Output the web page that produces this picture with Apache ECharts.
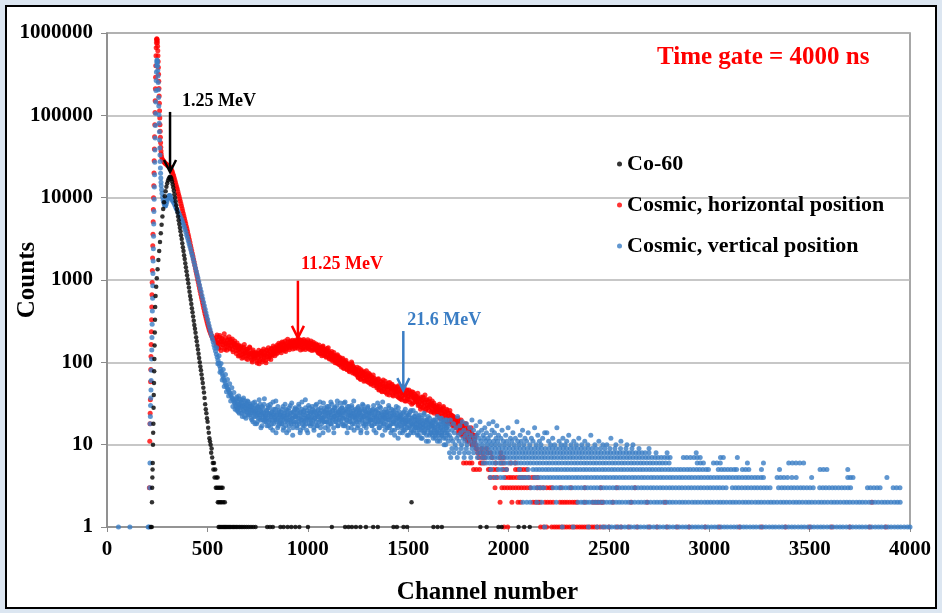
<!DOCTYPE html>
<html><head><meta charset="utf-8">
<script src="https://cdn.jsdelivr.net/npm/echarts@6/dist/echarts.min.js"></script>
<style>html,body{margin:0;padding:0;background:#dce6f1}#c{width:942px;height:613px}</style>
</head><body><div id="c"></div>
<script>
// ---------- tick labels / legend ----------
const xTickValues = [0, 500, 1000, 1500, 2000, 2500, 3000, 3500, 4000];
const yTickValues = [1, 10, 100, 1000, 10000, 100000, 1000000];
const seriesNames = ['Co-60', 'Cosmic, horizontal position', 'Cosmic, vertical position'];

// ---------- Co-60 (black): [channel, counts] ----------
const co60Points = [
[218,1],[223,1],[224,2],[225,3],[226,4],[227,5],[228,6],[229,10],[230,14],[231,18],[232,28],[233,40],[234,56],[235,78],[236,110],[237,160],[238,230],[239,330],[240,470],[242,640],[245,830],[248,1050],[252,1350],[256,1750],[260,2250],[264,2900],[268,3700],[272,4700],[276,5900],[280,7300],[284,8800],[288,10400],[292,12000],[296,13600],[300,15000],[304,16200],[308,17100],[312,17700],[315,17900],[318,17600],[321,16800],[324,15700],[327,14500],[330,13300],[333,12100],[336,11000],[339,10000],[342,9000],[345,8100],[348,7300],[351,6600],[354,5900],[357,5300],[360,4800],[363,4300],[366,3900],[369,3500],[372,3150],[375,2800],[378,2500],[381,2250],[384,2000],[387,1800],[390,1600],[393,1430],[396,1280],[399,1140],[402,1020],[405,910],[408,810],[411,720],[414,640],[417,575],[420,510],[423,455],[426,405],[429,360],[432,320],[435,285],[438,255],[441,228],[444,202],[447,180],[450,160],[453,143],[456,127],[459,113],[462,100],[465,89],[468,80],[471,71],[474,63],[477,56],[480,49],[483,43],[486,37],[489,31],[492,27],[495,24],[498,21],[501,19],[504,16],[507,14],[510,12],[513,11],[516,10],[519,8],[521,9],[524,7],[527,6],[530,5],[533,6],[536,4],[539,5],[542,3],[545,4],[551,4],[548,3],[555,3],[562,3],[569,3],[576,3],[552,2],[558,2],[565,2],[571,2],[579,2],[587,2],[1517,2]
];
const co60Ones = [556,561,567,573,579,585,591,597,603,609,616,623,630,637,644,652,660,668,677,686,696,706,717,728,740,798,812,826,864,880,900,918,938,958,1001,1120,1186,1203,1220,1240,1262,1290,1326,1349,1427,1444,1477,1495,1626,1647,1668,1860,1891,1950,1966,2050,2078,2106];

// ---------- Cosmic, horizontal (red) ----------
const redPoints = [
[211,3],[213,11],[214,18],[215,24],[216,35],[217,58],[218,82],[219,118],[220,165],[221,235],[222,330],[223,470],[224,660],[225,930],[226,1300],[227,1850],[228,2600],[229,3600],[230,5100],[231,7200],[232,10000],[233,14000],[234,20000],[235,28000],[236,39000],[237,55000],[238,77000],[239,108000],[240,150000],[241,210000],[242,290000],[243,400000],[244,530000],[245,660000],[246,760000],[247,830000],[248,850000],[249,840000],[250,810000],[251,760000],[252,690000],[253,610000],[254,530000],[255,450000],[256,380000],[257,315000],[258,260000],[259,212000],[260,172000],[261,140000],[262,114000],[263,93000],[264,77000],[265,64000],[266,54000],[267,46500],[268,41000],[269,37000],[270,34000],[272,31500],[275,29500],[278,28500],[281,27800],[284,27200],[287,26700],[290,26200],[293,25800],[296,25400],[299,25000],[302,24700],[305,24300],[308,24000],[311,23600],[314,23200],[317,22700],[320,22000],[323,21200],[326,20300],[329,19300],[332,18300],[335,17300],[338,16300],[341,15300],[344,14400],[347,13500],[350,12700],[353,11900],[356,11100],[359,10400],[362,9700],[365,9100],[368,8500],[371,7900],[374,7400],[377,6900],[380,6400],[383,6000],[386,5600],[389,5200],[392,4850],[395,4500],[398,4200],[401,3900],[404,3600],[407,3350],[410,3100],[413,2870],[416,2650],[419,2450],[422,2270],[425,2100],[428,1940],[431,1790],[434,1650],[437,1520],[440,1400],[443,1290],[446,1190],[449,1100],[452,1010],[455,930],[458,860],[461,790],[464,730],[467,670],[470,620],[473,575],[476,530],[479,490],[482,455],[485,420],[488,390],[491,365],[494,340],[497,318],[500,298],[503,280],[506,265],[509,250],[512,238],[515,228],[518,218],[521,210],[524,203],[527,197],[530,192],[533,188],[536,184]
];
// red band: counts every 4th channel, two interleaved readings
const redBandStart = 540, redBandStep = 4;
const redBandCounts = [
190,160,215,172,148,201,178,139,196,165,183,222,150,171,140,188,163,205,145,176,158,192,134,168,181,
150,128,172,141,160,121,153,137,112,148,126,165,131,119,144,108,137,125,150,113,129,101,141,118,126,
112,131,98,124,140,105,119,135,101,127,145,113,122,99,138,128,150,116,134,108,145,124,158,131,120,
147,126,162,138,171,144,155,131,177,150,165,139,182,158,148,191,160,142,175,167,152,186,161,173,148,
178,152,169,195,158,173,141,185,164,150,190,167,143,176,159,188,147,170,155,181,139,164,175,146,160,
168,140,156,131,162,145,126,150,138,158,121,142,133,115,147,124,137,110,129,119,135,104,122,113,99,
117,98,124,105,94,113,101,88,108,96,84,103,92,99,81,95,86,77,91,83,97,74,88,79,72,
82,70,76,65,85,71,62,78,68,74,59,70,66,79,61,68,57,72,63,55,67,60,52,64,58,
60,49,56,63,47,53,58,45,51,61,48,44,55,50,41,52,47,57,43,49,54,40,46,51,42,
48,39,44,52,37,42,47,35,43,40,49,34,41,45,36,39,46,33,42,38,44,32,37,41,35,
39,33,42,31,36,29,38,34,28,37,32,40,27,35,30,33,26,36,31,28,34,25,32,29,27,
30,25,28,23,31,26,21,27,24,29,20,25,22,27,19,24,21,26,18,23,20,22,17,21,19,
19,16,21,15,18,14,20,16,13,17,15,12,18,14,11,16,13,15,12,14,10,13,11,12,10
];
const redBand2Start = 542;
const redBand2Counts = [
175,203,158,186,169,212,151,180,194,162,176,143,199,168,157,185,172,149,190,161,178,142,170,155,164,
162,138,155,119,147,133,158,124,141,115,152,129,137,111,144,122,131,154,118,127,106,134,120,112,131,
120,104,127,115,96,130,110,124,137,107,119,132,105,141,117,128,111,139,123,147,119,135,128,151,138,
136,155,131,149,160,137,168,152,143,174,147,159,135,168,155,176,149,163,181,157,170,145,178,164,185,
160,182,148,171,163,187,155,176,144,169,181,152,173,162,149,178,158,143,172,165,150,168,141,162,153,
146,162,135,153,128,149,141,120,155,132,145,125,140,118,134,150,113,131,124,108,127,116,132,106,119,
104,120,97,110,116,92,105,99,112,86,101,94,106,83,97,89,79,94,86,101,80,90,75,85,81,
74,87,67,79,72,63,81,69,75,64,77,60,71,67,58,74,62,69,54,65,59,70,57,62,53,
56,51,62,46,54,50,58,44,55,47,52,59,43,50,46,56,40,51,45,53,48,39,50,44,47,
44,50,38,46,41,36,45,39,51,37,43,40,34,46,38,42,35,44,40,31,39,43,36,33,38,
34,38,30,36,33,27,35,31,38,29,33,26,35,30,28,34,29,31,25,32,27,30,24,29,26,
28,23,26,29,21,27,24,22,28,20,25,23,18,26,22,20,24,19,23,21,17,22,18,20,16,
17,20,14,18,16,19,13,17,15,14,18,12,16,13,15,11,14,12,16,10,13,12,11,13,9
];
// red tail: channels seen at each integer count level
const redLevel9 = [1842,1866,1890];
const redLevel8 = [1846,1858,1874,1896,1910,1962];
const redLevel7 = [1852,1870,1883,1918,1958,1975];
const redLevel6 = [1776,1790,1806,1818,1860,1868,1880,1935,1962,1975,2010,2035];
const redLevel5 = [1826,1840,1856,1900,1908,1925,1940,1975,1990,2035,2048,2060,2075,2090];
const redLevel4 = [1908,1925,1943,1985,2000,2012,2025,2040,2055,2068,2082,2100,2117,2130,2145];
const redLevel3 = [1933,1967,1980,1994,2008,2022,2036,2050,2064,2078,2092,2107,2142,2156,2172,2190,2205,2216,2260,2310,2380,2460,2540,2630];
const redLevel2 = [1958,2017,2047,2060,2122,2135,2148,2157,2182,2195,2208,2222,2256,2268,2280,2292,2305,2318,2330,2341,2380,2421,2435,2448,2462,2470,2520,2610,2690,2780,3810];
const redLevel1 = [1978,1996,2160,2175,2190,2215,2228,2240,2252,2265,2278,2290,2303,2316,2328,2341,2354,2366,2378,2390,2403,2416,2428,2441,2456,2475,2500,2540,2560,2600,2640,2700,2740,2790,2840,2900,2980,3050,3150,3260,3380,3500,3610,3700,3800,3880];

// ---------- Cosmic, vertical (blue) ----------
const bluePoints = [
[57,1],[114,1],[205,1],[210,1],[213,3],[214,6],[215,18],[216,22],[217,30],[218,37],[219,46],[220,60],[221,80],[222,110],[223,141],[224,200],[225,290],[226,420],[227,600],[228,850],[229,1200],[230,1700],[231,2400],[232,3400],[233,4800],[234,6800],[235,9600],[236,13500],[237,19000],[238,27000],[239,38000],[240,53000],[241,75000],[242,105000],[243,145000],[244,200000],[245,265000],[246,335000],[247,400000],[248,445000],[249,470000],[250,465000],[251,440000],[252,400000],[253,350000],[254,300000],[255,250000],[256,205000],[257,165000],[258,130000],[259,102000],[260,80000],[261,63000],[262,50000],[263,40000],[264,33000],[265,27500],[266,23000],[267,19800],[268,17300],[269,15400],[270,14000],[272,12500],[274,11200],[277,10100],[280,9300],[283,8700],[286,8200],[289,7900],[292,8000],[295,8400],[298,8900],[301,9500],[304,10000],[307,10400],[310,10600],[313,10600],[317,10200],[321,9700],[325,9300],[329,9000],[333,8600],[337,8200],[341,7800],[345,7400],[349,7100],[353,6800],[357,6500],[361,6200],[365,5900],[369,5600],[373,5300],[377,5000],[381,4700],[385,4400],[389,4100],[393,3800],[397,3500],[401,3250],[405,3000],[409,2750],[413,2550],[417,2350],[421,2150],[425,1980],[429,1810],[433,1660],[437,1520],[441,1390],[445,1270],[449,1160],[453,1060],[457,960],[461,870],[465,790],[469,720],[473,650],[477,590],[481,535],[485,485],[489,440],[493,400],[497,365],[501,333],[505,303],[509,276],[513,252],[517,230],[521,210],[525,192],[529,176],[533,161],[537,148],[541,136],[545,125],[549,115],[553,106],[557,98],[561,91],[565,84],[569,78],[573,73],[577,68],[581,64],[585,60],[589,56],[593,53],[597,50],[601,48],[605,46],[609,44],[613,42],[617,40],[621,38],[625,36],[629,35],[633,33],[637,32],
[546,150],[552,96],[558,120],[563,76],[568,97],[574,61],[579,82],[584,51],[590,71],[595,44],[600,62],[606,39],[611,55],[616,34],[622,49],[627,29],[632,43],[638,27]
];
// blue band: counts every 3rd channel, two interleaved readings
const blueBandStart = 640, blueBandStep = 3;
const blueBandCounts = [
34,29,38,27,31,25,36,30,28,33,24,29,35,26,30,22,28,32,25,27,34,23,29,26,31,
27,21,30,24,19,28,25,33,22,26,18,24,29,21,27,23,31,20,25,17,28,22,24,36,20,
23,19,26,21,28,17,24,20,31,22,18,25,15,23,27,20,22,34,19,24,16,21,26,18,23,
20,25,18,22,29,16,21,24,19,27,14,23,20,26,17,22,30,19,24,21,13,25,18,22,28,
19,23,17,26,21,31,18,24,15,22,27,20,16,25,19,23,35,18,21,26,14,22,20,28,17,
24,18,22,27,20,16,25,21,30,19,23,17,26,22,13,24,20,28,18,23,21,32,19,25,16,
22,27,19,24,17,29,21,25,18,23,31,20,26,16,22,28,19,24,21,34,17,25,20,23,27,
19,24,28,21,17,26,22,33,18,25,20,29,16,23,27,21,19,24,30,18,22,26,15,23,20,
25,19,22,28,17,24,20,26,14,23,21,31,18,22,27,19,25,16,21,24,29,18,22,20,26,
20,24,17,27,21,15,23,19,26,22,18,32,20,24,16,21,28,19,23,13,22,25,18,21,27,
19,23,16,25,20,28,17,22,14,21,24,18,26,19,15,23,20,29,17,21,12,22,25,18,20,
21,16,19,24,15,20,17,27,18,22,13,19,23,16,20,25,14,18,21,17,26,15,19,22,16,
18,14,21,16,19,13,23,17,15,20,12,18,16,24,14,19,17,11,20,15,22,16,13,18,19,
15,18,13,17,20,14,16,12,19,15,22,13,17,14,11,18,16,21,13,15,19,12,17,14,10,16,20,13,15
];
const blueBand2Start = 641;
const blueBand2Counts = [
30,36,26,33,28,39,24,31,35,27,32,22,29,37,25,30,34,21,28,31,24,33,27,23,29,
24,29,20,26,32,22,27,18,25,30,23,19,28,24,35,21,26,16,23,29,20,25,31,19,22,
21,26,17,24,30,19,23,28,16,22,25,20,33,18,24,21,27,14,23,20,29,17,25,22,19,
23,18,27,20,15,24,22,31,17,21,26,19,23,15,28,20,24,18,32,21,16,25,19,27,22,
22,27,16,24,19,29,21,14,25,20,33,18,23,26,17,21,28,20,15,24,22,30,18,25,21,
20,25,29,18,23,15,26,21,24,31,17,22,27,19,24,33,16,21,26,20,14,25,22,28,19,
25,19,29,22,15,24,27,20,33,18,23,26,21,14,28,22,25,19,30,23,17,26,21,24,32,
23,28,18,25,21,32,17,24,27,20,14,26,22,29,19,23,25,16,28,21,24,34,18,22,27,
21,26,16,23,29,19,25,22,15,27,20,24,30,17,22,26,18,23,14,28,21,25,19,24,20,
23,17,26,20,30,18,22,25,14,21,27,19,24,16,29,22,18,25,20,33,17,23,21,15,24,
21,25,17,22,30,16,20,24,18,27,15,22,19,23,13,26,18,21,24,16,28,19,22,14,23,
17,22,14,20,25,18,15,21,19,24,16,20,13,23,17,19,26,15,21,18,14,22,17,20,24,
16,20,13,18,22,15,17,19,12,21,16,18,14,23,15,17,20,13,19,16,11,18,21,14,17,
14,17,19,12,16,15,20,13,18,14,11,17,15,21,12,16,19,14,13,18,15,10,17,20,12,16,14,18,11
];
const blueUpperPoints = [
[1702,17],[1706,13],[1710,20],[1714,12],[1718,15],[1722,11],[1726,18],[1730,14],[1734,10],[1738,16],[1742,12],[1746,22],[1750,13],[1754,11],[1758,17],[1762,14],[1766,10],[1770,19],[1774,12],[1778,15],[1782,11],[1786,13],[1790,18],[1794,10],[1798,14],[1802,12],[1806,16],[1810,11],[1814,13],[1818,20],[1822,10],[1826,15],[1830,12],[1834,11],[1838,17],[1842,13],[1846,10],[1850,14],[1854,12],[1858,19],[1862,11],[1866,15],[1870,10],[1874,13],[1878,12],[1882,16],[1886,11],[1890,14],[1894,10],[1898,12],[1902,18],[1906,11],[1910,13],[1914,10],[1918,15],[1923,19],[1926,11],[1930,14],[1934,10],[1938,12],[1942,17],[1946,11],[1950,13],[1956,10],[1962,12],[1968,15],[1974,11],[1980,10],[1986,13],[1992,11],[1998,16],[2004,10],[2010,12],[2016,11],[2022,14],[2028,10],[2034,12],[2042,19],[2046,11],[2052,10],[2058,13],[2064,11],[2070,15],[2076,10],[2082,12],[2090,11],[2098,14],[2106,10],[2114,12],[2122,11],[2130,16],[2138,10],[2146,13],[2154,11],[2162,10],[2170,12],[2180,14],[2191,14],[2200,11],[2210,10],[2220,12],[2230,10],[2241,16],[2252,11],[2262,10],[2271,12],[2282,10],[2290,11],[2300,13],[2312,10],[2325,11],[2338,10],[2350,12],[2365,10],[2380,11],[2395,10],[2410,13],[2430,10],[2450,11],[2470,10],[2490,10],[2510,12],[2535,10],[2560,11],[2590,10],[2620,10]
];
// blue tail: channels seen at each integer count level
const blueLevel9 = [1718,1740,1765,1790,1818,1840,1862,1880,1898,1916,1934,1951,1969,1987,2005,2023,2040,2058,2076,2094,2112,2130,2148,2165,2183,2201,2219,2237,2255,2273,2290,2308,2326,2344,2362,2380,2398,2416,2436,2458,2480,2505,2530,2558,2585,2615,2650,2700];
const blueLevel8 = [1706,1728,1755,1781,1802,1826,1850,1866,1882,1897,1913,1929,1944,1960,1976,1991,2007,2023,2038,2054,2070,2085,2101,2117,2132,2148,2164,2179,2195,2211,2226,2242,2258,2273,2289,2305,2320,2336,2352,2367,2383,2399,2414,2430,2446,2461,2477,2493,2508,2524,2540,2555,2571,2587,2602,2618,2634,2649,2665,2681,2700,2735,2790,2935];
const blueLevel7 = [1712,1745,1779,1812,1845,1868,1884,1899,1915,1931,1946,1962,1978,1993,2009,2025,2040,2056,2072,2087,2103,2119,2134,2150,2166,2181,2197,2213,2228,2244,2260,2275,2291,2307,2322,2338,2354,2369,2385,2401,2416,2432,2448,2463,2479,2495,2510,2526,2542,2557,2573,2589,2604,2620,2636,2651,2667,2683,2698,2714,2730,2745,2761,2777,2792,2805,2871,2888,2906,2924,2940,2955,3056,3070,3140];
const blueLevel6 = [1874,1890,1906,1921,1937,1953,1968,1984,2000,2015,2031,2047,2062,2078,2094,2109,2125,2141,2156,2172,2188,2203,2219,2235,2250,2266,2282,2297,2313,2329,2344,2360,2376,2391,2407,2423,2438,2454,2470,2485,2501,2517,2532,2548,2564,2579,2595,2611,2626,2642,2658,2673,2689,2705,2720,2736,2752,2767,2783,2800,2940,2956,2971,3021,3038,3055,3190,3270,3396,3414,3432,3451,3470];
const blueLevel5 = [1912,1950,1965,1990,2055,2098,2122,2138,2153,2169,2185,2200,2216,2232,2247,2263,2279,2294,2310,2326,2341,2357,2373,2388,2404,2420,2435,2451,2467,2482,2498,2514,2529,2545,2561,2576,2592,2608,2623,2639,2655,2670,2686,2702,2717,2733,2749,2764,2780,2796,2811,2827,2843,2858,2874,2890,2905,2921,2937,2952,2968,2984,2996,3045,3061,3076,3092,3108,3124,3136,3165,3181,3197,3260,3350,3552,3569,3586,3690];
const blueLevel4 = [1910,1935,1960,1975,2055,2070,2085,2100,2130,2146,2161,2177,2193,2208,2224,2240,2255,2271,2287,2302,2318,2334,2349,2365,2381,2396,2412,2428,2443,2459,2475,2490,2506,2522,2537,2553,2569,2584,2600,2616,2631,2647,2663,2678,2694,2710,2725,2741,2757,2772,2788,2804,2819,2835,2851,2866,2882,2898,2913,2929,2945,2960,2976,2992,3007,3023,3039,3054,3070,3086,3101,3117,3133,3148,3164,3180,3195,3211,3227,3242,3258,3270,3338,3355,3372,3390,3412,3433,3510,3690,3703,3716,3885];
const blueLevel3 = [2112,2128,2145,2160,2176,2222,2238,2253,2269,2285,2300,2316,2332,2347,2363,2379,2394,2410,2426,2441,2457,2473,2488,2504,2520,2535,2551,2567,2582,2598,2614,2629,2645,2661,2676,2692,2708,2723,2739,2755,2770,2786,2802,2817,2833,2849,2864,2880,2896,2911,2927,2943,2958,2974,2990,3005,3021,3037,3052,3068,3084,3115,3131,3146,3162,3178,3193,3209,3225,3240,3256,3272,3287,3303,3345,3361,3376,3392,3408,3423,3439,3455,3470,3486,3502,3518,3550,3566,3581,3597,3613,3628,3644,3660,3675,3691,3704,3788,3803,3820,3836,3851,3916,3933,3950];
const blueLevel2 = [2072,2091,2108,2141,2166,2238,2346,2361,2374,2389,2402,2417,2431,2444,2458,2473,2489,2505,2519,2536,2551,2566,2583,2598,2613,2629,2646,2661,2677,2692,2708,2725,2740,2755,2771,2788,2803,2818,2834,2851,2866,2881,2897,2914,2929,2944,2960,2977,2992,3007,3023,3040,3055,3070,3086,3103,3118,3133,3149,3166,3181,3196,3212,3229,3244,3259,3275,3292,3307,3322,3338,3355,3370,3385,3401,3418,3433,3448,3464,3481,3496,3511,3527,3544,3559,3574,3590,3607,3622,3637,3653,3670,3685,3700,3716,3733,3748,3763,3779,3796,3811,3826,3842,3859,3874,3889,3905,3922,3937,3951];
const blueLevel1 = [2180,2268,2322,2398,2442,2468,2484,2500,2514,2531,2547,2562,2579,2595,2610,2627,2643,2658,2675,2691,2706,2723,2739,2754,2771,2787,2802,2819,2835,2850,2867,2883,2898,2915,2931,2946,2963,2979,2994,3011,3027,3042,3059,3075,3090,3107,3123,3138,3155,3171,3186,3203,3219,3234,3251,3267,3282,3299,3315,3330,3347,3363,3378,3395,3411,3426,3443,3459,3474,3491,3507,3522,3539,3555,3570,3587,3603,3618,3635,3651,3666,3683,3699,3714,3731,3747,3762,3779,3795,3810,3827,3843,3858,3875,3891,3906,3923,3939,3954,3971,3987,4000];

// ---------- build data through the axes ----------
function levelRows(rows) { const out = []; rows.forEach(([lvl, chans]) => chans.forEach(c => out.push([c, lvl]))); return out; }
function band(start, step, counts) { return counts.map((v, i) => [start + i * step, v]).filter(p => p[1] > 0); }

const co60Data = co60Points.concat(co60Ones.map(c => [c, 1]));
const redData = redPoints.concat(band(redBandStart, redBandStep, redBandCounts), band(redBand2Start, redBandStep, redBand2Counts),
  levelRows([[9, redLevel9], [8, redLevel8], [7, redLevel7], [6, redLevel6], [5, redLevel5], [4, redLevel4], [3, redLevel3], [2, redLevel2], [1, redLevel1]]));
const blueData = bluePoints.concat(band(blueBandStart, blueBandStep, blueBandCounts), band(blueBand2Start, blueBandStep, blueBand2Counts), blueUpperPoints,
  levelRows([[9, blueLevel9], [8, blueLevel8], [7, blueLevel7], [6, blueLevel6], [5, blueLevel5], [4, blueLevel4], [3, blueLevel3], [2, blueLevel2], [1, blueLevel1]]));

const SERIF = '"Liberation Serif", "Times New Roman", serif';
const RED = '#ff0000', BLUE = '#3a7dc4', BLACK = '#000000';

const chart = echarts.init(document.getElementById('c'), null, { renderer: 'canvas' });
const option = {
  animation: false,
  backgroundColor: '#dce6f1',
  title: {
    text: 'Time gate = 4000 ns', left: 657, top: 45, padding: 0,
    textStyle: { color: RED, fontFamily: SERIF, fontWeight: 'bold', fontSize: 25 }
  },
  legend: {
    data: seriesNames, orient: 'vertical', left: 617, top: 152, padding: 0,
    itemGap: 17, itemWidth: 5, itemHeight: 5, icon: 'circle',
    textStyle: { fontFamily: SERIF, fontWeight: 'bold', fontSize: 22, color: '#000', lineHeight: 24 }
  },
  grid: { left: 107, right: 32, top: 33, bottom: 86, show: true, borderColor: '#8a8a8a', borderWidth: 1.5, backgroundColor: 'transparent', containLabel: false, outerBoundsMode: 'none' },
  xAxis: {
    type: 'value', min: xTickValues[0], max: xTickValues[xTickValues.length - 1], interval: xTickValues[1] - xTickValues[0],
    name: 'Channel number', nameLocation: 'middle', nameGap: 53, nameMoveOverlap: false,
    nameTextStyle: { fontFamily: SERIF, fontWeight: 'bold', fontSize: 25, color: '#000', padding: [0, 42, 0, 0] },
    axisLine: { show: true, lineStyle: { color: '#8a8a8a', width: 1.5 } },
    axisTick: { show: true, length: 5, lineStyle: { color: '#8a8a8a' } },
    splitLine: { show: false },
    axisLabel: { margin: 12, fontFamily: SERIF, fontWeight: 'bold', fontSize: 21, color: '#000', formatter: v => String(v) }
  },
  yAxis: {
    type: 'log', logBase: 10, min: yTickValues[0], max: yTickValues[yTickValues.length - 1],
    name: 'Counts', nameLocation: 'middle', nameRotate: 90, nameGap: 67, nameMoveOverlap: false,
    nameTextStyle: { fontFamily: SERIF, fontWeight: 'bold', fontSize: 25, color: '#000' },
    axisLine: { show: true, lineStyle: { color: '#8a8a8a', width: 1.5 } },
    axisTick: { show: true, length: 6, lineStyle: { color: '#8a8a8a' } },
    splitLine: { show: true, lineStyle: { color: '#b5b5b5', width: 1.5 } },
    minorTick: { show: false },
    axisLabel: { margin: 14, fontFamily: SERIF, fontWeight: 'bold', fontSize: 21, color: '#000', formatter: v => String(Math.round(v)) }
  },
  series: [
    { name: seriesNames[0], type: 'scatter', data: co60Data, symbol: 'circle', symbolSize: 4.5, z: 4, progressive: 0, itemStyle: { color: BLACK } },
    { name: seriesNames[1], type: 'scatter', data: redData, symbol: 'circle', symbolSize: 5, z: 2, progressive: 0, itemStyle: { color: RED } },
    { name: seriesNames[2], type: 'scatter', data: blueData, symbol: 'circle', symbolSize: 5, z: 3, progressive: 0, itemStyle: { color: BLUE } }
  ]
};
chart.setOption(option);

// ---------- annotations (anchored in data space) ----------
const annotations = [
  { label: '1.25 MeV', color: BLACK, channel: 314, from: 110000, to: 20500, dx: 12, dy: -11 },
  { label: '11.25 MeV', color: RED, channel: 951, from: 980, to: 198, dx: 3, dy: -16 },
  { label: '21.6 MeV', color: BLUE, channel: 1476, from: 240, to: 46, dx: 4, dy: -11 }
];
const g = [{
  type: 'rect', z: -100, silent: true,
  shape: { x: 6, y: 6, width: 930, height: 602 },
  style: { fill: '#ffffff', stroke: '#000000', lineWidth: 2 }
}];
annotations.forEach(a => {
  const p0 = chart.convertToPixel({ gridIndex: 0 }, [a.channel, a.from]);
  const p1 = chart.convertToPixel({ gridIndex: 0 }, [a.channel, a.to]);
  g.push({ type: 'line', z: 100, silent: true, shape: { x1: p0[0], y1: p0[1], x2: p1[0], y2: p1[1] - 1 }, style: { stroke: a.color, lineWidth: 2.5 } });
  g.push({ type: 'polyline', z: 100, silent: true, shape: { points: [[p1[0] - 6, p1[1] - 12], [p1[0], p1[1]], [p1[0] + 6, p1[1] - 12]] }, style: { stroke: a.color, lineWidth: 2.5, fill: null } });
  g.push({ type: 'text', z: 100, silent: true, style: { text: a.label, x: p0[0] + a.dx, y: p0[1] + a.dy, fill: a.color, font: 'bold 18px ' + SERIF, textAlign: 'left', textVerticalAlign: 'middle', align: 'left', verticalAlign: 'middle' } });
});
chart.setOption({ graphic: g });
</script>
</body></html>
